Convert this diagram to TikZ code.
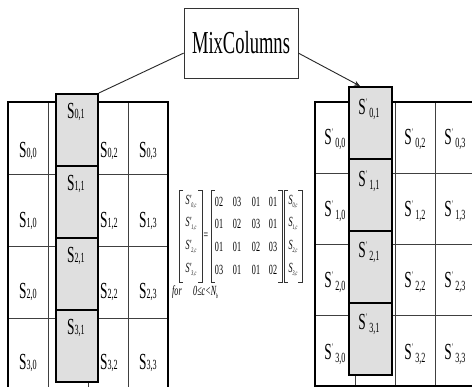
\documentclass[tikz,border=0pt]{standalone}
\usepackage{fontspec}
\newfontfamily\cf[FakeStretch=0.58]{Liberation Serif}
\usetikzlibrary{arrows.meta}

% state byte labels: S_{r,c} and S'_{r,c}
\newcommand{\stin}[1]{{\fontsize{23}{23}\selectfont S}{\fontsize{14}{14}\selectfont #1}}
\newcommand{\stout}[1]{{\fontsize{23}{23}\selectfont S}\raisebox{9pt}{\fontsize{10}{10}\selectfont '}\hspace{2.5pt}\raisebox{-3pt}{\fontsize{14}{14}\selectfont #1}}
% entries of the column equation
\newcommand{\eqout}[1]{{\itshape S'}\raisebox{-3pt}{\fontsize{7}{7}\selectfont\itshape #1}}
\newcommand{\eqin}[1]{{\itshape S}\raisebox{-3pt}{\fontsize{7}{7}\selectfont\itshape #1}}

\begin{document}
\begin{tikzpicture}[x=1pt,y=-1pt,
  frame/.style={line width=2.2pt,line cap=rect},
  gridline/.style={line width=0.8pt,draw=black!75},
  colcell/.style={draw,line width=1.9pt,fill=gray!25,inner sep=0pt,anchor=north west,
                  minimum width=42pt,minimum height=72pt},
  lbl/.style={anchor=base,inner sep=0pt,font=\cf},
  eq/.style={inner sep=0pt,font=\cf\fontsize{14}{14}\selectfont},
  brk/.style={line width=0.7pt,draw=black!80},
  link/.style={line width=0.9pt}]
\useasboundingbox (0,0) rectangle (472,387);
\fill[white] (0,0) rectangle (472,387);
\clip (0,0) rectangle (472,387);

% operation box
\node[draw,line width=0.8pt,draw=black!80,minimum width=114pt,minimum height=70pt,inner sep=0pt,
      font=\cf\fontsize{32}{32}\selectfont] (mix) at (241,43) {MixColumns};

% ---------- input state ----------
\foreach \x in {48,88,128} \draw[gridline] (\x,102) -- (\x,392);
\foreach \y in {174,246,318} \draw[gridline] (8,\y) -- (168,\y);
\draw[frame] (8,392) -- (8,102) -- (168,102) -- (168,392);
\foreach \r/\b in {0/158,1/228,2/299,3/370}{
  \node[lbl] (a\r0) at (28,\b) {\stin{\r,0}};
  \node[lbl] (a\r2) at (109,\b) {\stin{\r,2}};
  \node[lbl] (a\r3) at (148,\b) {\stin{\r,3}};
}
\foreach \r in {0,1,2,3}{
  \node[colcell] (gl\r) at (55,93+72*\r) {};
  \node[lbl] (a\r1) at (76,119+72*\r) {\stin{\r,1}};
}

% ---------- output state ----------
\foreach \x in {355,395,435} \draw[gridline] (\x,102) -- (\x,386);
\foreach \y in {173,244,315} \draw[gridline] (315,\y) -- (476,\y);
\draw[frame] (478,102) -- (315,102) -- (315,386) -- (478,386);
\foreach \r/\b in {0/145,1/217,2/288,3/360}{
  \node[lbl] (b\r0) at (335,\b) {\stout{\r,0}};
  \node[lbl] (b\r2) at (415,\b) {\stout{\r,2}};
  \node[lbl] (b\r3) at (455,\b) {\stout{\r,3}};
}
\foreach \r/\b in {0/115,1/187,2/258,3/330}{
  \node[colcell,minimum width=43pt] (gr\r) at (348,86+72*\r) {};
  \node[lbl] (b\r1) at (369,\b) {\stout{\r,1}};
}

% connectors
\draw[link,draw=black!85] (mix.190) -- (gl0.north east);
\coordinate (hit) at ([xshift=12pt]gr0.north west);
\draw[link,draw=black!85,-{Stealth[length=6pt,width=5pt]}] (mix.350) -- (hit);

% ---------- column equation ----------
\draw[brk] (183,190) -- (179,190) -- (179,282) -- (183,282);
\draw[brk] (198,190) -- (202,190) -- (202,282) -- (198,282);
\draw[brk] (215,190) -- (211,190) -- (211,282) -- (215,282);
\draw[brk] (278,190) -- (282,190) -- (282,282) -- (278,282);
\draw[brk] (288,190) -- (284,190) -- (284,282) -- (288,282);
\draw[brk] (298,190) -- (302,190) -- (302,282) -- (298,282);
\node[eq] (eqs) at (206,236) {=};
\foreach \r/\y in {0/202,1/224,2/247,3/270}{
  \node[eq] (v\r) at (191,\y) {\eqout{\r,c}};
  \node[eq] (w\r) at (293,\y) {\eqin{\r,c}};
}
\foreach \r/\y/\p/\q/\s/\t in {0/202/02/03/01/01,1/224/01/02/03/01,2/247/01/01/02/03,3/270/03/01/01/02}{
  \node[eq] (m\r a) at (219,\y) {\p};
  \node[eq] (m\r b) at (237,\y) {\q};
  \node[eq] (m\r c) at (256,\y) {\s};
  \node[eq] (m\r d) at (273,\y) {\t};
}
\node[eq,anchor=west] (forw) at (172,292) {\itshape for};
\node[eq,anchor=west] (cond) at (193,292) {\itshape 0≤c<N\raisebox{-3pt}{\fontsize{7}{7}\selectfont b}};
\end{tikzpicture}
\end{document}
